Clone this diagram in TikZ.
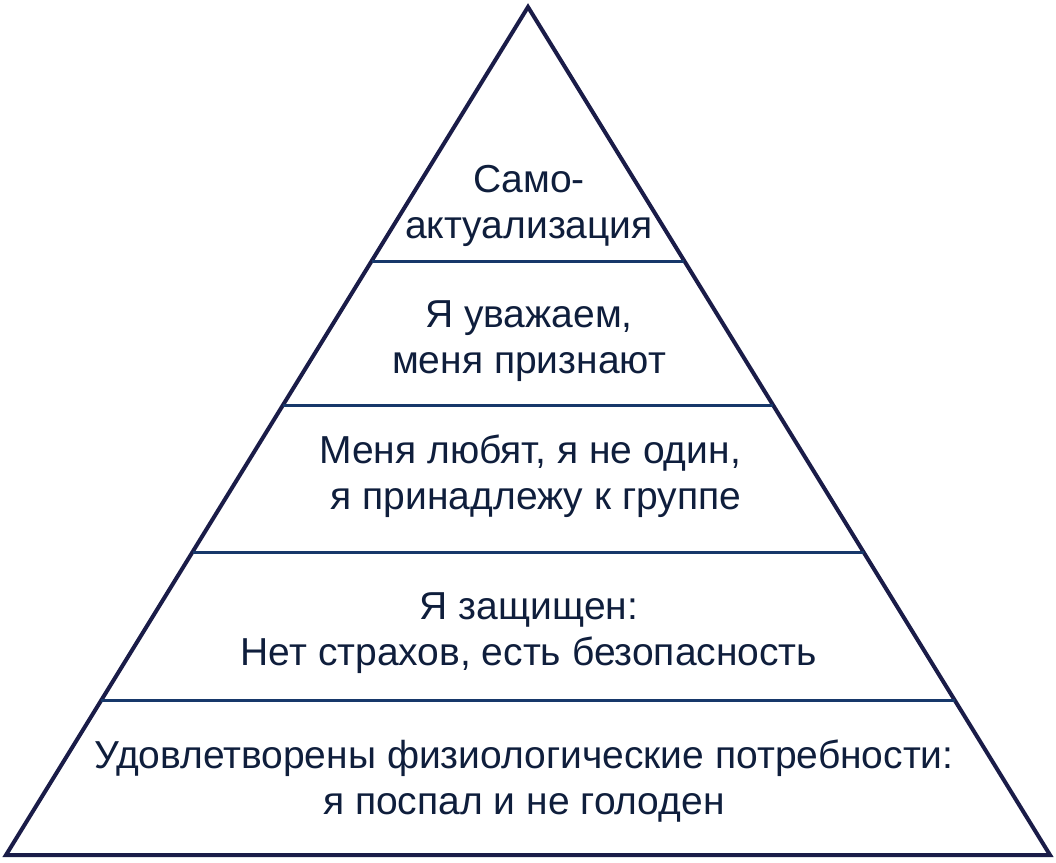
\documentclass[tikz,border=0pt]{standalone}
\usepackage{fontspec}
\setmainfont{Liberation Sans}
\definecolor{edgeblue}{HTML}{1A1C48}
\definecolor{lineblue}{HTML}{17386A}
\definecolor{textblue}{HTML}{0F1E3C}
\begin{document}
\begin{tikzpicture}[x=1pt,y=-1pt,
  level/.style={text=textblue,align=center,font=\fontsize{39}{46}\selectfont}]
\useasboundingbox (0,0) rectangle (1056,862);
\draw[edgeblue,line width=4pt,line join=miter] (528,7) -- (1050,855) -- (6,855) -- cycle;
\draw[lineblue,line width=3pt] (371.6,261) -- (684.4,261);
\draw[lineblue,line width=3pt] (283.0,405) -- (773.0,405);
\draw[lineblue,line width=3pt] (192.5,552) -- (863.5,552);
\draw[lineblue,line width=3pt] (101.4,700) -- (954.6,700);
\node[level] (self) at (529,206) {Само-\\актуализация};
\node[level] (esteem) at (529,341) {Я уважаем,\\меня признают};
\node[level] (love) at (530,476) {Меня любят, я не один,\\\hspace{0.3em}я принадлежу к группе};
\node[level] (safety) at (529,633) {Я защищен:\\Нет страхов, есть безопасность};
\node[level] (body) at (524,781) {Удовлетворены физиологические потребности:\\я поспал и не голоден};
\end{tikzpicture}
\end{document}
